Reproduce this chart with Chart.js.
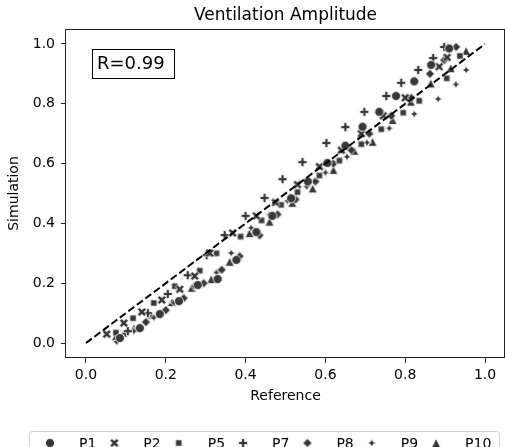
<!DOCTYPE html>
<html>
<head>
<meta charset="utf-8">
<script src="https://cdn.jsdelivr.net/npm/chart.js@4/dist/chart.umd.min.js"></script>
<style>
  html, body { margin: 0; padding: 0; background: #fff; }
</style>
</head>
<body>
<canvas id="plot-vent" width="505" height="447"></canvas>
<script>
// participants and their (reference, simulation) pairs
let participants = ["P1", "P2", "P5", "P7", "P8", "P9", "P10"];

let refP1 = [0.085, 0.135, 0.185, 0.233, 0.28, 0.33, 0.377, 0.427, 0.467, 0.514, 0.556, 0.605, 0.65, 0.693, 0.735, 0.777, 0.8225, 0.865, 0.91];
let simP1 = [0.017, 0.05, 0.097, 0.14, 0.194, 0.214, 0.278, 0.371, 0.425, 0.484, 0.54, 0.602, 0.66, 0.723, 0.773, 0.826, 0.875, 0.93, 0.985];

let refP2 = [0.052, 0.095, 0.14, 0.19, 0.235, 0.2725, 0.31, 0.3675, 0.427, 0.475, 0.53, 0.585, 0.64, 0.69, 0.745, 0.80, 0.885, 0.905];
let simP2 = [0.03, 0.067, 0.104, 0.144, 0.18, 0.224, 0.301, 0.368, 0.425, 0.47, 0.53, 0.59, 0.645, 0.70, 0.76, 0.82, 0.924, 0.955];

let refP5 = [0.075, 0.118, 0.17, 0.2225, 0.285, 0.327, 0.3875, 0.44, 0.489, 0.53, 0.585, 0.635, 0.69, 0.74, 0.795, 0.835, 0.904, 0.937];
let simP5 = [0.035, 0.083, 0.134, 0.19, 0.242, 0.30, 0.356, 0.41, 0.462, 0.505, 0.56, 0.61, 0.665, 0.715, 0.77, 0.81, 0.885, 0.96];

let refP7 = [0.105, 0.155, 0.205, 0.255, 0.3025, 0.3475, 0.40, 0.4475, 0.4925, 0.5425, 0.6025, 0.65, 0.6975, 0.7525, 0.79, 0.8325, 0.87, 0.8975];
let simP7 = [0.04, 0.10, 0.164, 0.227, 0.294, 0.361, 0.425, 0.485, 0.548, 0.605, 0.669, 0.722, 0.773, 0.826, 0.870, 0.913, 0.953, 0.99];

let refP8 = [0.10, 0.15, 0.20, 0.245, 0.295, 0.34, 0.385, 0.435, 0.48, 0.525, 0.575, 0.62, 0.665, 0.71, 0.765, 0.815, 0.862, 0.8975, 0.9275];
let simP8 = [0.033, 0.07, 0.11, 0.15, 0.20, 0.245, 0.29, 0.36, 0.43, 0.48, 0.54, 0.60, 0.645, 0.70, 0.76, 0.82, 0.90, 0.946, 0.99];

let refP9 = [0.077, 0.12, 0.17, 0.22, 0.27, 0.327, 0.364, 0.414, 0.46, 0.505, 0.553, 0.60, 0.654, 0.704, 0.76, 0.8225, 0.8825, 0.927, 0.9525];
let simP9 = [0.004, 0.04, 0.085, 0.135, 0.19, 0.236, 0.301, 0.385, 0.43, 0.475, 0.523, 0.57, 0.623, 0.67, 0.718, 0.766, 0.816, 0.865, 0.913];

let refP10 = [0.075, 0.12, 0.165, 0.215, 0.265, 0.314, 0.36, 0.41, 0.46, 0.517, 0.568, 0.62, 0.6725, 0.718, 0.768, 0.814, 0.864, 0.914, 0.9525];
let simP10 = [0.023, 0.05, 0.094, 0.137, 0.185, 0.214, 0.272, 0.368, 0.406, 0.469, 0.517, 0.579, 0.643, 0.673, 0.746, 0.807, 0.868, 0.919, 0.977];

let identityLine = [0, 1];
let tickValues = [0.0, 0.2, 0.4, 0.6, 0.8, 1.0];
let rValue = "R=0.99";

let markColor = "#383838";
let fontFam = "'DejaVu Sans', sans-serif";

// seaborn-like filled markers, drawn on little canvases
function makeMarker(kind) {
    var c = document.createElement('canvas');
    c.width = 14;
    c.height = 14;
    var g = c.getContext('2d');
    g.translate(7, 7);
    var s = 9, h = s / 2;
    var pts = null;
    g.beginPath();
    if (kind === 'o') {
        g.arc(0, 0, h, 0, 2 * Math.PI);
    } else if (kind === 'X') {
        pts = [[-1, -2], [0, -1], [1, -2], [2, -1], [1, 0], [2, 1], [1, 2], [0, 1], [-1, 2], [-2, 1], [-1, 0], [-2, -1]].map(p => [p[0] * s / 4, p[1] * s / 4]);
    } else if (kind === 's') {
        var a = h / Math.SQRT2;
        pts = [[-a, -a], [a, -a], [a, a], [-a, a]];
    } else if (kind === 'P') {
        pts = [[-1, -3], [1, -3], [1, -1], [3, -1], [3, 1], [1, 1], [1, 3], [-1, 3], [-1, 1], [-3, 1], [-3, -1], [-1, -1]].map(p => [p[0] * s / 6, p[1] * s / 6]);
    } else if (kind === 'D') {
        pts = [[0, -h], [h, 0], [0, h], [-h, 0]];
    } else if (kind === '*') {
        var r2 = h * 0.42;
        pts = [];
        for (var i = 0; i < 8; i++) {
            var ang = -Math.PI / 2 + i * Math.PI / 4;
            var rr = (i % 2 === 0) ? h : r2;
            pts.push([rr * Math.cos(ang), rr * Math.sin(ang)]);
        }
    } else if (kind === '^') {
        pts = [[0, -h], [h, h], [-h, h]];
    }
    if (pts) {
        g.moveTo(pts[0][0], pts[0][1]);
        for (var k = 1; k < pts.length; k++) g.lineTo(pts[k][0], pts[k][1]);
    }
    g.closePath();
    g.fillStyle = markColor;
    g.fill();
    g.lineWidth = 0.8;
    g.strokeStyle = '#ffffff';
    g.stroke();
    return c;
}

let markerKinds = ['o', 'X', 's', 'P', 'D', '*', '^'];
let markerImgs = markerKinds.map(makeMarker);
let refs = [refP1, refP2, refP5, refP7, refP8, refP9, refP10];
let sims = [simP1, simP2, simP5, simP7, simP8, simP9, simP10];

let datasets = [{
    type: 'line',
    label: 'identity',
    data: identityLine.map(v => ({x: v, y: v})),
    borderColor: '#000000',
    borderWidth: 2,
    borderDash: [7.4, 3.2],
    pointRadius: 0,
    fill: false,
    order: 0
}];

for (let i = 0; i < participants.length; i++) {
    datasets.push({
        type: 'scatter',
        label: participants[i],
        data: refs[i].map((v, j) => ({x: v, y: sims[i][j]})),
        pointStyle: markerImgs[i],
        pointRadius: 4.5,
        order: 1
    });
}

// title, R box, spines and the framed legend
let decorations = {
    id: 'decorations',
    afterDatasetsDraw(chart) {
        var ctx = chart.ctx, a = chart.chartArea;
        ctx.save();
        ctx.strokeStyle = '#222';
        ctx.lineWidth = 1;
        ctx.strokeRect(Math.round(a.left) - 0.5, Math.round(a.top) + 0.5,
            Math.round(a.right) - Math.round(a.left), Math.round(a.bottom) - Math.round(a.top) - 1);

        ctx.fillStyle = '#000';
        ctx.font = "17px " + fontFam;
        ctx.textAlign = 'center';
        ctx.textBaseline = 'alphabetic';
        ctx.fillText("Ventilation Amplitude", (a.left + a.right) / 2, 20);

        ctx.strokeStyle = '#000';
        ctx.strokeRect(92.5, 49.5, 82, 29);
        ctx.font = "18px " + fontFam;
        ctx.textAlign = 'left';
        ctx.fillText(rValue, 97, 68.5);

        // legend
        ctx.beginPath();
        ctx.roundRect(29.5, 431.5, 470, 30, 3);
        ctx.fillStyle = 'rgba(255,255,255,0.8)';
        ctx.fill();
        ctx.strokeStyle = '#d0d0d0';
        ctx.stroke();
        ctx.font = "14px " + fontFam;
        ctx.fillStyle = '#000';
        var x = 50;
        for (var i = 0; i < participants.length; i++) {
            ctx.drawImage(markerImgs[i], x - 7, 443 - 7);
            ctx.fillText(participants[i], x + 29, 448);
            x += 29 + ctx.measureText(participants[i]).width + 18;
        }
        ctx.restore();
    }
};

let axisCommon = {
    type: 'linear',
    min: -0.05,
    max: 1.05,
    afterBuildTicks: function(scale) {
        scale.ticks = tickValues.map(v => ({value: v}));
    },
    grid: {
        display: true,
        drawOnChartArea: false,
        drawTicks: true,
        tickLength: 5,
        tickColor: '#222',
        lineWidth: 1
    },
    border: {display: false}
};

var ctx = document.getElementById('plot-vent').getContext('2d');
var chart = new Chart(ctx, {
    type: 'scatter',
    data: {datasets: datasets},
    options: {
        responsive: false,
        animation: false,
        devicePixelRatio: 1,
        layout: {
            autoPadding: false,
            padding: {top: 29, right: 0, left: 0, bottom: 39}
        },
        plugins: {
            legend: {display: false},
            title: {display: false},
            tooltip: {enabled: false}
        },
        scales: {
            x: Object.assign({}, axisCommon, {
                position: 'bottom',
                afterFit: function(s) {
                    s.height = 50;
                    s.paddingLeft = 0;
                    s.paddingRight = 0;
                },
                ticks: {
                    color: '#000',
                    padding: 4,
                    font: {family: fontFam, size: 14},
                    callback: v => v.toFixed(1)
                },
                title: {
                    display: true,
                    text: 'Reference',
                    color: '#000',
                    font: {family: fontFam, size: 14},
                    padding: {top: 0, bottom: 3.6}
                }
            }),
            y: Object.assign({}, axisCommon, {
                position: 'left',
                afterFit: function(s) {
                    s.width = 66;
                    s.paddingTop = 0;
                    s.paddingBottom = 0;
                },
                ticks: {
                    color: '#000',
                    padding: 6,
                    font: {family: fontFam, size: 14},
                    callback: v => v.toFixed(1)
                },
                title: {
                    display: true,
                    text: 'Simulation',
                    color: '#000',
                    font: {family: fontFam, size: 14},
                    padding: {top: 5.6, bottom: 0}
                }
            })
        }
    },
    plugins: [decorations]
});
</script>
</body>
</html>
